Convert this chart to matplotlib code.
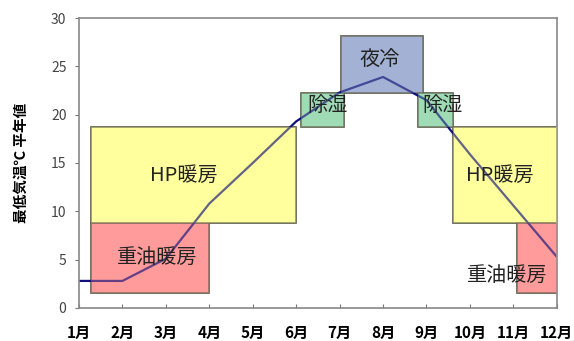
import matplotlib.pyplot as plt
from matplotlib.patches import Rectangle

plt.rcParams['font.family'] = ['Noto Sans CJK JP', 'DejaVu Sans']

# 月別の最低気温(平年値)
months = ['1月', '2月', '3月', '4月', '5月', '6月',
          '7月', '8月', '9月', '10月', '11月', '12月']
temp = [2.8, 2.8, 5.1, 10.8, 15.0, 19.3, 22.3, 23.9, 21.5, 15.9, 10.6, 5.3]

# 運転モードの期間 (月) と温度範囲
modes = ['重油暖房', 'HP暖房', '除湿', '夜冷', '除湿', 'HP暖房', '重油暖房']
m_start = [1.28, 1.28, 6.1, 7.03, 8.8, 9.6, 11.08]
m_end = [4.0, 6.0, 7.1, 8.92, 9.6, 12.0, 12.0]
t_low = [1.5, 8.8, 18.7, 22.2, 18.7, 8.8, 1.5]
t_high = [8.8, 18.7, 22.2, 28.1, 22.2, 18.7, 8.8]
colors = ['#ff9b9b', '#ffff9e', '#9fdcb6', '#a3b2d4', '#9fdcb6', '#ffff9e', '#ff9b9b']
# ラベル位置
lab_x = [2.8, 3.42, 6.71, 7.93, 9.38, 10.69, 10.85]
lab_y = [5.2, 13.7, 20.9, 25.6, 20.9, 13.7, 3.4]

fig = plt.figure(figsize=(5.74, 3.41), dpi=100)
ax = fig.add_axes([0.1376, 0.0968, 0.8324, 0.8504])

x = list(range(1, 13))
ax.plot(x, temp, color='#10107a', lw=1.6, zorder=2)

for i in range(len(modes)):
    r = Rectangle((m_start[i], t_low[i]), m_end[i] - m_start[i], t_high[i] - t_low[i],
                  facecolor=colors[i], edgecolor='#5a5a46', lw=1.2, zorder=1)
    ax.add_patch(r)
    # 線が透けて見えるように薄く重ねる
    r2 = Rectangle((m_start[i], t_low[i]), m_end[i] - m_start[i], t_high[i] - t_low[i],
                   facecolor=colors[i], edgecolor='none', alpha=0.35, zorder=3)
    ax.add_patch(r2)
    ax.text(lab_x[i], lab_y[i], modes[i], fontsize=14.5, color='#222222',
            ha='center', va='center', zorder=4)

ax.set_xlim(1, 12)
ax.set_ylim(0, 30)
ax.set_xticks(x)
ax.set_xticklabels(months, fontsize=11, fontweight='bold')
ax.set_yticks(range(0, 31, 5))
ax.tick_params(axis='x', direction='in', length=3, pad=12, color='#777777')
ax.tick_params(axis='y', direction='out', length=3, pad=6, labelsize=10,
               labelcolor='#444444', color='#777777')
for s in ax.spines.values():
    s.set_color('#888888')
    s.set_linewidth(1.2)

ax.set_ylabel('最低気温℃ 平年値', fontsize=10.5, fontweight='bold', labelpad=16)

fig.savefig('out.png', dpi=100)
